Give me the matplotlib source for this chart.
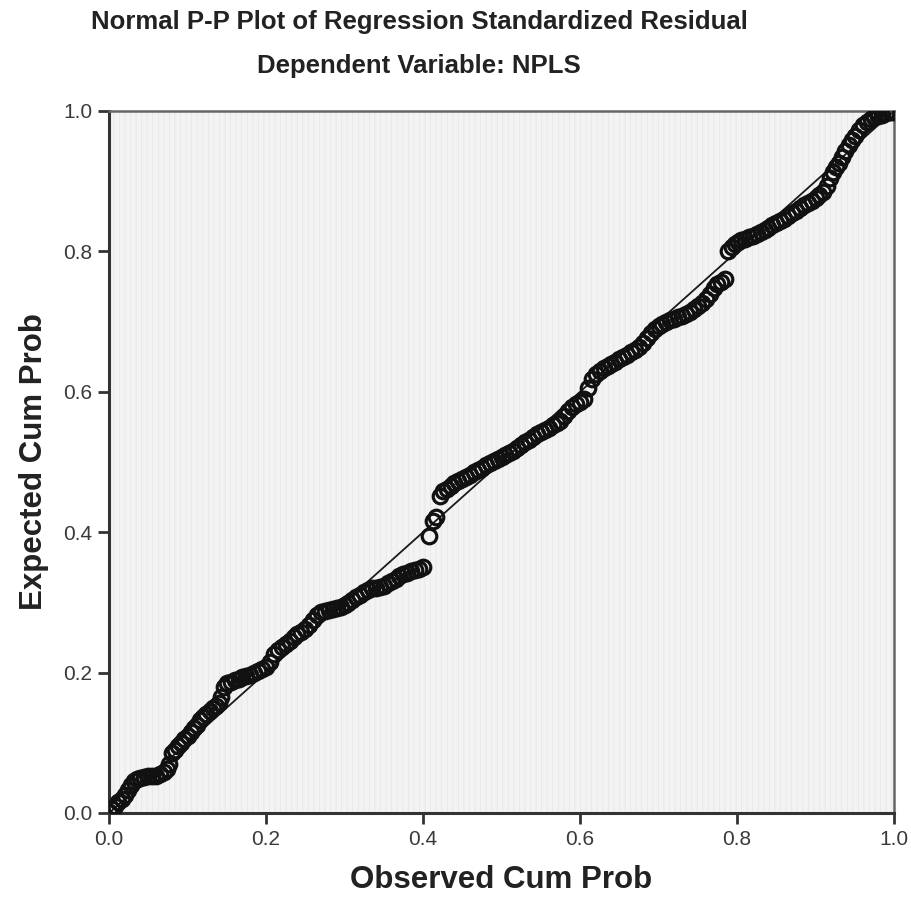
import numpy as np
import matplotlib
matplotlib.use("Agg")
import matplotlib.pyplot as plt

plt.rcParams['font.family'] = ['Liberation Sans', 'DejaVu Sans']

# observed vs expected cumulative probabilities
observed = [
    0.000, 0.004, 0.008, 0.012, 0.016, 0.020, 0.024, 0.028, 0.032, 0.036, 0.040, 0.045,
    0.050, 0.055, 0.060, 0.065, 0.070, 0.074, 0.077,
    0.080, 0.084, 0.088, 0.092, 0.096, 0.100, 0.104, 0.108, 0.112, 0.116, 0.120, 0.124,
    0.128, 0.132, 0.136, 0.140, 0.143, 0.146,
    0.150, 0.155, 0.160, 0.165, 0.170, 0.175, 0.180, 0.185, 0.190, 0.195, 0.200, 0.205, 0.210,
    0.215, 0.220, 0.225, 0.230, 0.235, 0.240, 0.245, 0.250, 0.255, 0.260, 0.265, 0.270,
    0.275, 0.280, 0.285, 0.290,
    0.295, 0.300, 0.305, 0.310, 0.315, 0.320, 0.325, 0.330, 0.335, 0.340, 0.345, 0.350,
    0.355, 0.360, 0.365, 0.370, 0.375, 0.380, 0.385, 0.390, 0.395, 0.400,
    0.408, 0.413, 0.417, 0.421, 0.425, 0.430, 0.435, 0.440, 0.445, 0.450, 0.455, 0.460,
    0.465, 0.470, 0.475, 0.480, 0.485, 0.490, 0.495, 0.500,
    0.505, 0.510, 0.515, 0.520, 0.525, 0.530, 0.535, 0.540, 0.545, 0.550, 0.555, 0.560,
    0.565, 0.570, 0.575, 0.580, 0.585, 0.590, 0.595, 0.600, 0.605,
    0.610, 0.615, 0.620, 0.625, 0.630, 0.635, 0.640, 0.645, 0.650, 0.655, 0.660, 0.665,
    0.670, 0.675, 0.680, 0.685, 0.690, 0.695, 0.700,
    0.705, 0.710, 0.715, 0.720, 0.725, 0.730, 0.735, 0.740, 0.745, 0.750, 0.755, 0.760,
    0.765, 0.770, 0.775, 0.780, 0.785,
    0.789, 0.793, 0.797, 0.801, 0.805, 0.810, 0.815, 0.820, 0.825, 0.830, 0.835, 0.840,
    0.845, 0.850, 0.855, 0.860, 0.865, 0.870, 0.875, 0.880, 0.885, 0.890, 0.895, 0.900,
    0.905, 0.910,
    0.914, 0.918, 0.922, 0.926, 0.930, 0.934, 0.938, 0.942, 0.946, 0.950, 0.955, 0.960,
    0.965, 0.970, 0.975, 0.980, 0.985, 0.990, 0.995, 0.999,
]
expected = [
    0.002, 0.006, 0.010, 0.015, 0.020, 0.026, 0.033, 0.040, 0.045, 0.048, 0.050, 0.051,
    0.052, 0.052, 0.053, 0.055, 0.058, 0.063, 0.070,
    0.085, 0.090, 0.095, 0.100, 0.105, 0.110, 0.116, 0.121, 0.126, 0.132, 0.137, 0.141,
    0.145, 0.149, 0.153, 0.157, 0.165, 0.180,
    0.185, 0.187, 0.189, 0.191, 0.193, 0.195, 0.197, 0.199, 0.202, 0.205, 0.208, 0.215, 0.226,
    0.232, 0.236, 0.240, 0.245, 0.251, 0.255, 0.258, 0.262, 0.268, 0.275, 0.282, 0.286,
    0.288, 0.289, 0.290, 0.292,
    0.294, 0.296, 0.299, 0.303, 0.307, 0.311, 0.315, 0.318, 0.320, 0.321, 0.322, 0.324,
    0.327, 0.331, 0.334, 0.337, 0.340, 0.342, 0.344, 0.346, 0.348, 0.350,
    0.394, 0.416, 0.422, 0.452, 0.458, 0.462, 0.466, 0.470, 0.473, 0.476, 0.479, 0.482,
    0.486, 0.489, 0.492, 0.495, 0.498, 0.501, 0.504, 0.507,
    0.510, 0.513, 0.516, 0.520, 0.524, 0.528, 0.532, 0.536, 0.540, 0.543, 0.546, 0.549,
    0.552, 0.555, 0.559, 0.565, 0.572, 0.578, 0.582, 0.586, 0.590,
    0.606, 0.618, 0.625, 0.630, 0.634, 0.637, 0.640, 0.643, 0.646, 0.649, 0.652, 0.656,
    0.660, 0.664, 0.669, 0.676, 0.684, 0.690, 0.694,
    0.697, 0.700, 0.702, 0.704, 0.706, 0.708, 0.711, 0.714, 0.718, 0.722, 0.726, 0.732,
    0.740, 0.748, 0.753, 0.757, 0.760,
    0.800, 0.806, 0.810, 0.814, 0.816, 0.818, 0.820, 0.822, 0.825, 0.828, 0.831, 0.834,
    0.837, 0.840, 0.843, 0.846, 0.850, 0.854, 0.858, 0.862, 0.866, 0.869, 0.872, 0.876,
    0.880, 0.885,
    0.893, 0.904, 0.913, 0.920, 0.926, 0.934, 0.943, 0.951, 0.958, 0.965, 0.973, 0.980,
    0.985, 0.988, 0.991, 0.993, 0.995, 0.997, 0.998, 0.999,
]
ticks = [0.0, 0.2, 0.4, 0.6, 0.8, 1.0]
tick_labels = ["0.0", "0.2", "0.4", "0.6", "0.8", "1.0"]

fig = plt.figure(figsize=(9.11, 8.98), dpi=100)
ax = fig.add_axes([0.1197, 0.0947, 0.8617, 0.7817])
ax.set_facecolor('#f3f3f3')

# faint vertical stripe texture of the plot area
plt.rcParams['hatch.linewidth'] = 0.6
ax.add_patch(plt.Rectangle((0, 0), 1, 1, transform=ax.transAxes, facecolor='none',
                           edgecolor='#e7e7e7', hatch='|||', lw=0, zorder=0))

# reference diagonal
ax.plot([0, 1], [0, 1], color='#1a1a1a', lw=1.3, zorder=2)

ax.plot(observed, expected, linestyle='none', marker='o', markersize=10.5,
        markerfacecolor='none', markeredgecolor='#111111', markeredgewidth=2.3, zorder=3)

ax.set_xlim(0, 1)
ax.set_ylim(0, 1)
ax.set_xticks(ticks)
ax.set_xticklabels(tick_labels)
ax.set_yticks(ticks)
ax.set_yticklabels(tick_labels)
ax.tick_params(direction='out', length=8, width=2, color='#333333',
               labelsize=15, labelcolor='#3a3a3a', pad=4)

for side in ['left', 'bottom']:
    ax.spines[side].set_color('#333333')
    ax.spines[side].set_linewidth(2.2)
for side in ['top', 'right']:
    ax.spines[side].set_color('#666666')
    ax.spines[side].set_linewidth(1.8)

ax.set_xlabel('Observed Cum Prob', fontsize=22.5, fontweight='bold', color='#222222', labelpad=12)
ax.set_ylabel('Expected Cum Prob', fontsize=22.5, fontweight='bold', color='#222222', labelpad=10)

fig.text(0.46, 0.975, 'Normal P-P Plot of Regression Standardized Residual',
         ha='center', va='center', fontsize=18.5, fontweight='bold', color='#222222')
fig.text(0.46, 0.927, 'Dependent Variable: NPLS',
         ha='center', va='center', fontsize=18.5, fontweight='bold', color='#222222')

fig.savefig('out.png', dpi=100)
